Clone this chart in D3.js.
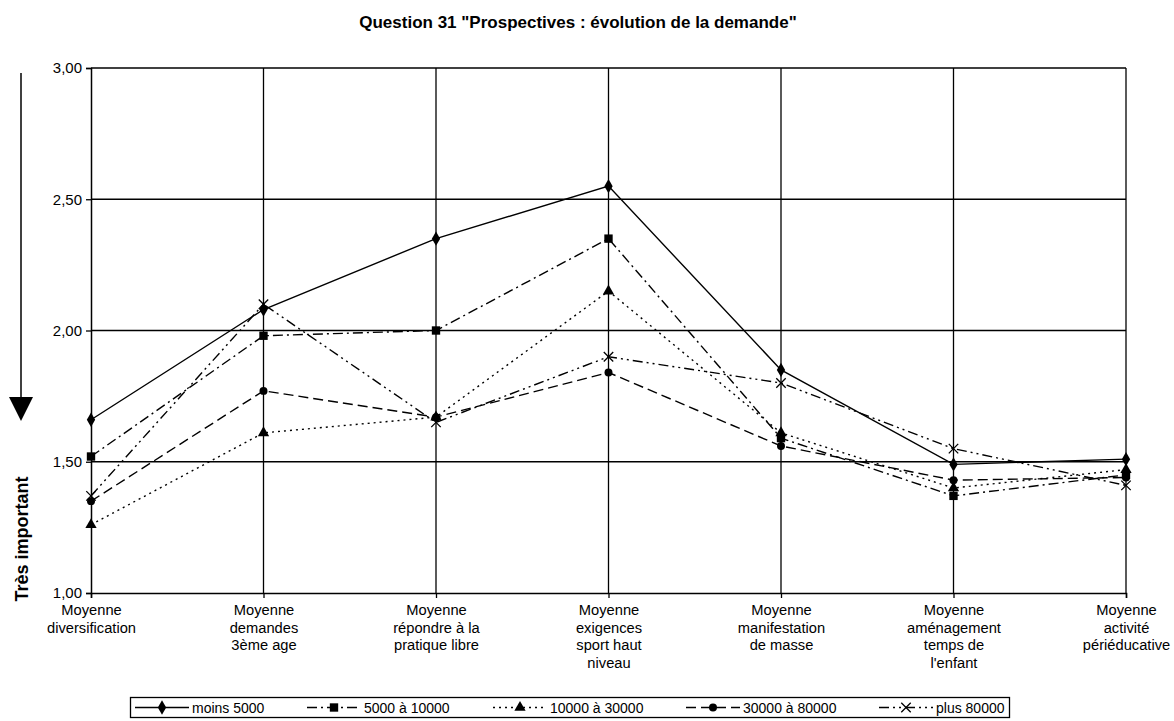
<!DOCTYPE html>
<html><head><meta charset="utf-8">
<script src="https://cdn.jsdelivr.net/npm/d3@7"></script>
<style>
body{margin:0;background:#fff;}
svg{display:block;font-family:"Liberation Sans",Arial,sans-serif;}
</style></head>
<body><svg id="c" width="1174" height="721"></svg>
<script>
const title = 'Question 31 "Prospectives : évolution de la demande"';
const yAxisTitle = "Très important";
const categories = [
  "Moyenne\ndiversification",
  "Moyenne\ndemandes\n3ème age",
  "Moyenne\nrépondre à la\npratique libre",
  "Moyenne\nexigences\nsport haut\nniveau",
  "Moyenne\nmanifestation\nde masse",
  "Moyenne\naménagement\ntemps de\nl'enfant",
  "Moyenne\nactivité\npériéducative"
];
const yTicks = [1, 1.5, 2, 2.5, 3];
const seriesNames = ["moins 5000", "5000 à 10000", "10000 à 30000", "30000 à 80000", "plus 80000"];
const moins5000   = [1.66, 2.08, 2.35, 2.55, 1.85, 1.49, 1.51];
const s5000_10000 = [1.52, 1.98, 2.00, 2.35, 1.59, 1.37, 1.45];
const s10000_30000= [1.26, 1.61, 1.67, 2.15, 1.61, 1.40, 1.47];
const s30000_80000= [1.35, 1.77, 1.67, 1.84, 1.56, 1.43, 1.44];
const plus80000   = [1.37, 2.10, 1.65, 1.90, 1.80, 1.55, 1.41];
const seriesValues = [moins5000, s5000_10000, s10000_30000, s30000_80000, plus80000];
const dashes = [null, "10,4,2,4", "2,4", "10,5", "10,4,2,4,2,4"];
const symbols = [d3.symbolDiamond, d3.symbolSquare, d3.symbolTriangle, d3.symbolCircle, d3.symbolX];
const symSizes = [60, 70, 55, 50, 60];

const svg = d3.select("#c");
const L = 91, R = 1126, T = 68, B = 593;
const x = d3.scalePoint().domain(categories).range([L, R]).padding(0);
const y = d3.scaleLinear().domain([1, 3]).range([B, T]);

svg.append("text").attr("x", 578).attr("y", 28).attr("text-anchor", "middle")
  .attr("font-size", 17).attr("font-weight", "bold").text(title);

// gridlines
svg.append("g").selectAll("line").data(yTicks.filter(d => d > 1)).join("line")
  .attr("x1", L).attr("x2", R).attr("y1", d => y(d)).attr("y2", d => y(d))
  .attr("stroke", "#000").attr("stroke-width", 1.3);
svg.append("g").selectAll("line").data(categories.slice(1)).join("line")
  .attr("x1", d => x(d)).attr("x2", d => x(d)).attr("y1", T).attr("y2", B)
  .attr("stroke", "#000").attr("stroke-width", 1.3);

// y axis
const ya = svg.append("g").attr("transform", `translate(${L},0)`)
  .call(d3.axisLeft(y).tickValues(yTicks).tickSize(5).tickPadding(4)
    .tickFormat(d => d.toFixed(2).replace(".", ",")));
ya.select(".domain").attr("stroke-width", 1.5);
ya.selectAll(".tick line").attr("stroke-width", 1.3);
ya.selectAll("text").attr("font-size", 15).attr("font-family", "Liberation Sans, Arial");

// x axis
const xa = svg.append("g").attr("transform", `translate(0,${B})`)
  .call(d3.axisBottom(x).tickSize(5).tickFormat(""));
xa.select(".domain").attr("stroke-width", 1.5);
xa.selectAll(".tick line").attr("stroke-width", 1.3);
xa.selectAll(".tick").append("text").attr("fill", "#000").attr("font-size", 14.7)
  .attr("text-anchor", "middle").attr("font-family", "Liberation Sans, Arial")
  .each(function(d) {
    d3.select(this).selectAll("tspan").data(d.split("\n")).join("tspan")
      .attr("x", 0).attr("y", (t, i) => 22 + i * 17.5).text(t => t);
  });

// y arrow and title
svg.append("line").attr("x1", 21).attr("x2", 21).attr("y1", 73).attr("y2", 400)
  .attr("stroke", "#000").attr("stroke-width", 1.5);
svg.append("path").attr("d", "M9,397 L33,397 L21,421 Z").attr("fill", "#000");
svg.append("text").attr("transform", "translate(28,539) rotate(-90)")
  .attr("text-anchor", "middle").attr("font-size", 18).attr("font-weight", "bold").text(yAxisTitle);

// series
const line = d3.line().x((d, i) => x(categories[i])).y(d => y(d));
seriesValues.forEach((vals, si) => {
  const g = svg.append("g");
  g.append("path").attr("d", line(vals)).attr("fill", "none").attr("stroke", "#000")
    .attr("stroke-width", 1.4).attr("stroke-dasharray", dashes[si]);
  const sym = d3.symbol().type(symbols[si]).size(symSizes[si]);
  g.selectAll("path.m").data(vals).join("path").attr("class", "m")
    .attr("transform", (d, i) => `translate(${x(categories[i])},${y(d)})`)
    .attr("d", sym)
    .attr("fill", si === 4 ? "none" : "#000")
    .attr("stroke", "#000").attr("stroke-width", si === 4 ? 1.3 : 0);
});

// legend
const lg = svg.append("g");
lg.append("rect").attr("x", 130.5).attr("y", 697.5).attr("width", 879).attr("height", 20)
  .attr("fill", "#fff").attr("stroke", "#000").attr("stroke-width", 1.3);
const legX = [135, 307, 493, 686, 879];
seriesNames.forEach((n, si) => {
  const x0 = legX[si], yy = 707.5;
  lg.append("line").attr("x1", x0).attr("x2", x0 + 54).attr("y1", yy).attr("y2", yy)
    .attr("stroke", "#000").attr("stroke-width", 1.4).attr("stroke-dasharray", dashes[si]);
  lg.append("path").attr("transform", `translate(${x0 + 27},${yy})`)
    .attr("d", d3.symbol().type(symbols[si]).size(symSizes[si])())
    .attr("fill", si === 4 ? "none" : "#000").attr("stroke", "#000").attr("stroke-width", si === 4 ? 1.3 : 0);
  lg.append("text").attr("x", x0 + 57).attr("y", yy + 5).attr("font-size", 14).text(n);
});
</script></body></html>
